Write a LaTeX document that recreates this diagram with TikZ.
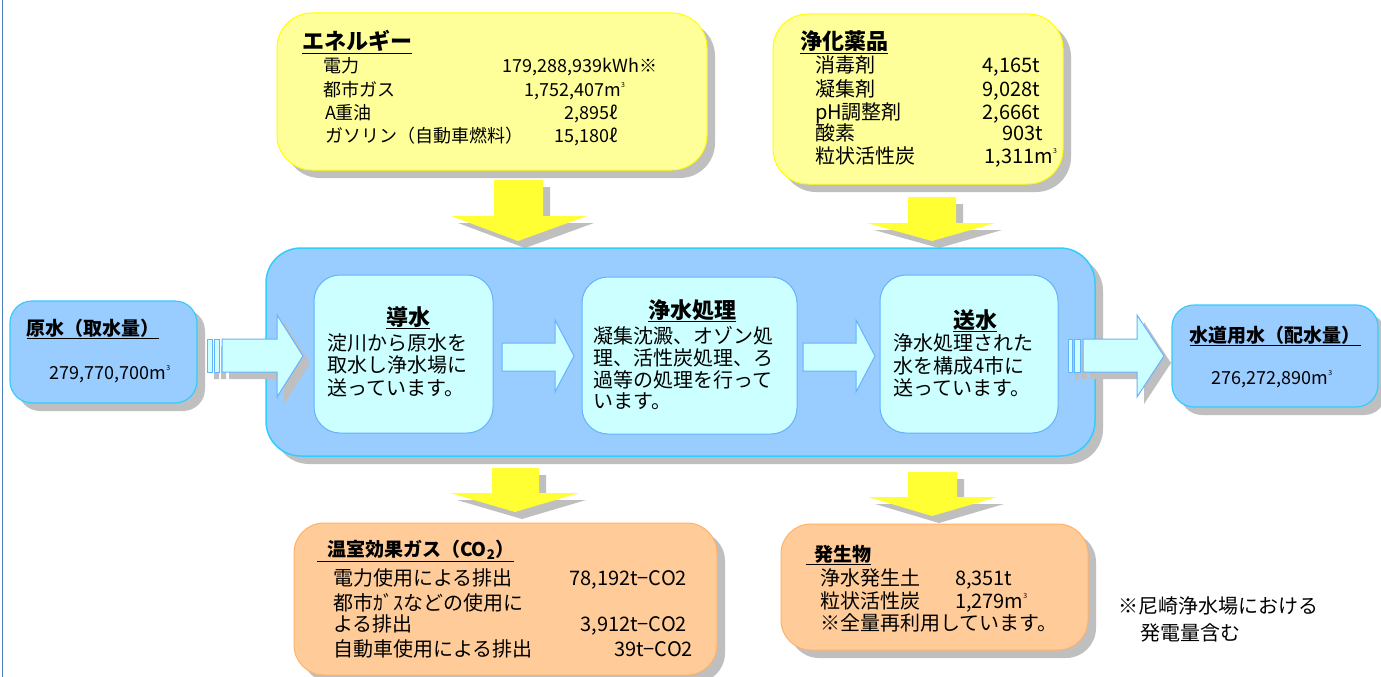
\documentclass[tikz,border=0pt]{standalone}
\usepackage{fontspec}
\setmainfont{Noto Sans CJK JP}
\usetikzlibrary{shadows}
\definecolor{shgray}{RGB}{191,191,191}
\definecolor{ylfill}{RGB}{255,255,153}
\definecolor{ylborder}{RGB}{255,255,0}
\definecolor{arrowyl}{RGB}{255,255,51}
\definecolor{bluefill}{RGB}{153,204,255}
\definecolor{blueborder}{RGB}{51,204,255}
\definecolor{cyanfill}{RGB}{204,255,255}
\definecolor{innerborder}{RGB}{102,178,255}
\definecolor{orfill}{RGB}{255,204,153}
\definecolor{orborder}{RGB}{255,178,102}
\definecolor{leftline}{RGB}{79,129,189}
\newcommand\cubic{m\raisebox{0.5em}{\fontsize{7}{7}\selectfont 3}}
\newcommand\ttl[1]{\underline{\textbf{#1}}}
\newcommand\yarrow[8]{%
  \fill[shgray,shift={(7,7)}] (#1,#3) -- (#2,#3) -- (#2,#4) -- (#6,#4) -- (#7,#8) -- (#5,#4) -- (#1,#4) -- cycle;
  \fill[arrowyl] (#1,#3) -- (#2,#3) -- (#2,#4) -- (#6,#4) -- (#7,#8) -- (#5,#4) -- (#1,#4) -- cycle;}
% stem start, head start, tip, stem top, stem bottom, head top, head bottom
\newcommand\rarrowpath[7]{(#1,#4) -- (#2,#4) -- (#2,#6) -- (#3,{(#6+#7)/2}) -- (#2,#7) -- (#2,#5) -- (#1,#5) -- cycle}
\tikzset{
  bx/.style={inner sep=0pt, outer sep=0pt},
  shd/.style={drop shadow={shadow xshift=8pt, shadow yshift=-8pt, fill=shgray, opacity=1}},
  ybox/.style={bx, shd, draw=ylborder, fill=ylfill, line width=1pt, rounded corners=35pt},
  mainbox/.style={bx, shd, draw=blueborder, fill=bluefill, line width=1.5pt, rounded corners=35pt},
  sidebox/.style={bx, shd, draw=blueborder, fill=bluefill, line width=1.2pt, rounded corners=22pt},
  innerbox/.style={bx, draw=innerborder, fill=cyanfill, line width=1pt, rounded corners=26pt},
  obox/.style={bx, shd, draw=orborder, fill=orfill, line width=1pt, rounded corners=30pt},
  blkarrow/.style={draw=innerborder, fill=cyanfill, line width=1pt, line join=miter},
  t/.style={inner sep=0pt, outer sep=0pt, anchor=base west, font=\fontsize{20}{24}\selectfont},
  te/.style={t, anchor=base east},
  tc/.style={t, anchor=base},
  s18/.style={font=\fontsize{18}{22}\selectfont},
  b19/.style={font=\fontsize{19}{22}\selectfont},
  b22/.style={font=\fontsize{22}{24}\selectfont},
}
\begin{document}
\begin{tikzpicture}[x=1pt,y=-1pt]
\useasboundingbox (0,0) rectangle (1381,677);
\fill[white] (0,0) rectangle (1381,677);
\draw[leftline, line width=1.6pt] (2.5,0) -- (2.5,677);

% top boxes
\node[ybox, minimum width=430pt, minimum height=157pt] (energy) at (492,91.5) {};
\node[ybox, minimum width=290pt, minimum height=170pt] (chem) at (918,99) {};

% yellow arrows
\yarrow{494}{543}{180}{216}{451}{587}{518}{241}
\yarrow{908}{956}{197}{223}{867}{995}{932}{241}

% main box
\node[mainbox, minimum width=829pt, minimum height=208pt] (main) at (680.5,352) {};

% left input arrow
\fill[shgray, shift={(7,7)}] (207,339) rectangle (212,372) (214,339) rectangle (219,372) \rarrowpath{222}{277}{303}{339}{372}{315}{397};
\draw[blkarrow] (207,339) rectangle (212,372);
\draw[blkarrow] (214,339) rectangle (219,372);
\draw[blkarrow] \rarrowpath{222}{277}{303}{339}{372}{315}{397};

% right output arrow
\fill[shgray, shift={(7,7)}] (1068,339) rectangle (1072,372) (1074,339) rectangle (1080,372) \rarrowpath{1083}{1137}{1164}{339}{372}{315}{397};
\draw[blkarrow] (1068,339) rectangle (1072,372);
\draw[blkarrow] (1074,339) rectangle (1080,372);
\draw[blkarrow] \rarrowpath{1083}{1137}{1164}{339}{372}{315}{397};

% inner boxes
\node[innerbox, minimum width=179pt, minimum height=158pt] (dousui) at (403.5,354) {};
\node[innerbox, minimum width=215pt, minimum height=157pt] (jousui) at (689.5,355.5) {};
\node[innerbox, minimum width=178pt, minimum height=158pt] (sousui) at (969,354) {};

% inner arrows
\draw[blkarrow] \rarrowpath{502}{555}{574}{343}{371}{320}{392};
\draw[blkarrow] \rarrowpath{803}{856}{875}{343}{371}{320}{392};

% side boxes
\node[sidebox, minimum width=187pt, minimum height=102pt] (gensui) at (103.5,352) {};
\node[sidebox, minimum width=206pt, minimum height=102pt] (suidou) at (1275,356) {};

% lower yellow arrows
\yarrow{492}{539}{468}{493}{450}{579}{515}{512}
\yarrow{908}{957}{472}{497}{868}{997}{932}{516}

% bottom boxes
\node[obox, minimum width=423pt, minimum height=152pt] (ghg) at (505.5,599) {};
\node[obox, minimum width=307pt, minimum height=126pt] (waste) at (934.5,587) {};

% ---- texts: energy
\node[t,b22] (enT) at (302,50) {\ttl{エネルギー}};
\node[t,s18] (en1) at (323,72) {電力};
\node[t,s18] (en2) at (323,96) {都市ガス};
\node[t,s18] (en3) at (325,119) {A重油};
\node[t,s18] (en4) at (325,142) {ガソリン（自動車燃料）};
\node[te,s18] (en1v) at (657,72) {179,288,939kWh\textbf{※}};
\node[te,s18] (en2v) at (625,96) {1,752,407\cubic};
\node[te,s18] (en3v) at (618,119) {2,895ℓ};
\node[te,s18] (en4v) at (618,142) {15,180ℓ};

% chemicals
\node[t,b22] (chT) at (800,50) {\ttl{浄化薬品}};
\node[t] (ch1) at (815,73) {消毒剤};
\node[t] (ch2) at (815,96) {凝集剤};
\node[t] (ch3) at (815,119) {pH調整剤};
\node[t] (ch4) at (815,140) {酸素};
\node[t] (ch5) at (815,163) {粒状活性炭};
\node[te] (ch1v) at (1040,73) {4,165t};
\node[te] (ch2v) at (1040,96) {9,028t};
\node[te] (ch3v) at (1040,119) {2,666t};
\node[te] (ch4v) at (1043,140) {903t};
\node[te] (ch5v) at (1057,163) {1,311\cubic};

% side boxes text
\node[tc,b19] (gsT) at (93,335) {\ttl{原水（取水量）}};
\node[tc,s18] (gsV) at (110,379) {279,770,700\cubic};
\node[tc,b19] (sdT) at (1275,342) {\ttl{水道用水（配水量）}};
\node[tc,s18] (sdV) at (1272,384) {276,272,890\cubic};

% inner boxes text
\node[tc,b22] (dsT) at (408,325) {\ttl{導水}};
\node[t] (ds1) at (327,350) {淀川から原水を};
\node[t] (ds2) at (327,372) {取水し浄水場に};
\node[t] (ds3) at (327,395) {送っています。};

\node[tc,b22] (jsT) at (692,318) {\ttl{浄水処理}};
\node[t] (js1) at (593,343) {凝集沈澱、オゾン処};
\node[t] (js2) at (593,365) {理、活性炭処理、ろ};
\node[t] (js3) at (593,387) {過等の処理を行って};
\node[t] (js4) at (593,408) {います。};

\node[tc,b22] (ssT) at (975,328) {\ttl{送水}};
\node[t] (ss1) at (893,350) {浄水処理された};
\node[t] (ss2) at (893,373) {水を構成4市に};
\node[t] (ss3) at (893,395) {送っています。};

% GHG
\node[t,b19] (ghT) at (317,556) {\underline{\hspace*{10pt}\textbf{温室効果ガス（CO\textsubscript{2}）}}};
\node[t] (gh1) at (333,585) {電力使用による排出};
\node[t] (gh2) at (333,610) {都市ｶﾞｽなどの使用に};
\node[t] (gh3) at (333,631) {よる排出};
\node[t] (gh4) at (333,656) {自動車使用による排出};
\node[te] (gh1v) at (687,585) {78,192t−CO2};
\node[te] (gh3v) at (687,631) {3,912t−CO2};
\node[te] (gh4v) at (693,656) {39t−CO2};

% waste
\node[t,b19] (wsT) at (806,561) {\underline{\hspace*{8pt}\textbf{発生物}}};
\node[t] (ws1) at (820,585) {浄水発生土};
\node[t] (ws2) at (820,608) {粒状活性炭};
\node[t] (ws3) at (820,630) {※全量再利用しています。};
\node[t] (ws1v) at (955,585) {8,351t};
\node[t] (ws2v) at (955,608) {1,279\cubic};

% note
\node[t] (nt1) at (1118,613) {※尼崎浄水場における};
\node[t] (nt2) at (1140,640) {発電量含む};
\end{tikzpicture}
\end{document}
